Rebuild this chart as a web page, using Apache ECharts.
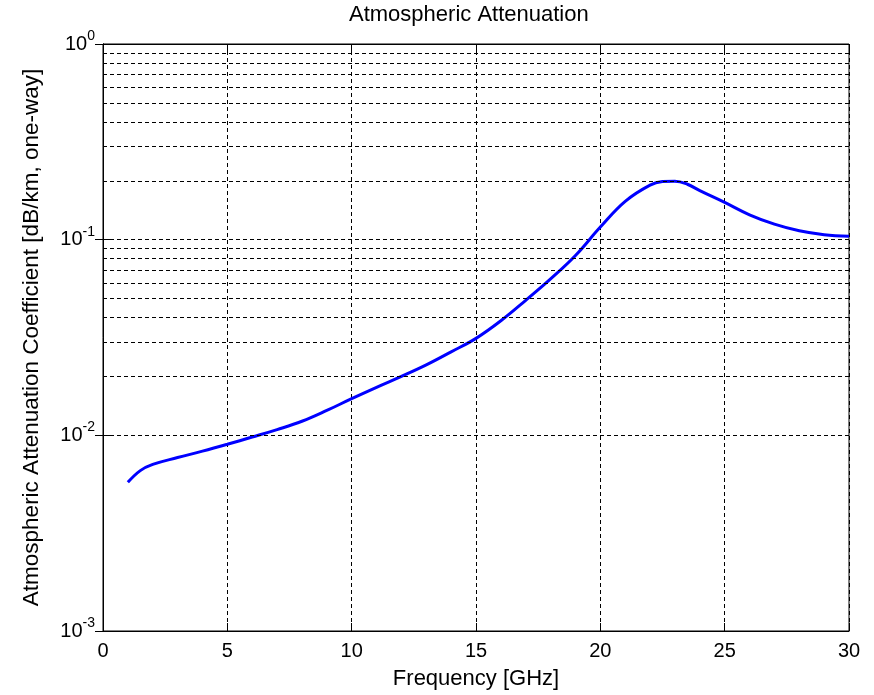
<!DOCTYPE html>
<html>
<head>
<meta charset="UTF-8">
<title>Atmospheric Attenuation</title>
<script src="https://cdn.jsdelivr.net/npm/echarts@6/dist/echarts.min.js"></script>
<style>
  html, body {margin:0; padding:0; background:#fff;}
  #chart {width:874px; height:695px;}
</style>
</head>
<body>
<div id="chart"></div>
<script>
// frequency [GHz] and attenuation [dB/km]
var freq = [1, 1.5, 2, 3, 4, 5, 6, 7, 8, 9, 10, 11, 12, 13, 14, 15, 16, 17, 18, 19, 20,
            21, 22, 22.5, 23, 23.5, 24, 25, 26, 27, 28, 29, 30];
var atten = [0.00575, 0.0066, 0.0071, 0.0077, 0.0083, 0.0090, 0.0098, 0.0107, 0.0118, 0.0134, 0.0154,
             0.0176, 0.0200, 0.0229, 0.0267, 0.0313, 0.0385, 0.049, 0.063, 0.083, 0.116,
             0.157, 0.190, 0.198, 0.199, 0.192, 0.178, 0.155, 0.134, 0.120, 0.111, 0.106, 0.104];
var xTicks = [0, 5, 10, 15, 20, 25, 30];
var minorGrid = [0.002, 0.003, 0.004, 0.005, 0.006, 0.007, 0.008, 0.009,
                 0.02, 0.03, 0.04, 0.05, 0.06, 0.07, 0.08, 0.09,
                 0.2, 0.3, 0.4, 0.5, 0.6, 0.7, 0.8, 0.9];

var pts = freq.map(function (f, i) { return [f, atten[i]]; });
var dash = {color: '#000', width: 1, type: [4, 3]};
var font = 'Arial, "Liberation Sans", sans-serif';

var chart = echarts.init(document.getElementById('chart'), null, {renderer: 'canvas'});
chart.setOption({
  animation: false,
  backgroundColor: '#fff',
  textStyle: {fontFamily: font, color: '#000'},
  title: {
    text: 'Atmospheric Attenuation',
    left: 349, top: 4, padding: 0,
    textStyle: {fontSize: 22, fontWeight: 'normal', color: '#000', fontFamily: font}
  },
  grid: {left: 103, right: 25, top: 44, bottom: 63, show: true, borderColor: '#000', borderWidth: 1},
  xAxis: [{
    type: 'value', min: 0, max: 30, interval: 5,
    name: 'Frequency [GHz]', nameLocation: 'middle', nameGap: 37,
    nameTextStyle: {fontSize: 22, color: '#000'},
    axisLine: {lineStyle: {color: '#000'}},
    axisTick: {inside: true, length: 8, lineStyle: {color: '#000'}},
    axisLabel: {fontSize: 20, color: '#000', margin: 10,
      formatter: function (v) { return xTicks.indexOf(v) >= 0 ? String(v) : ''; }},
    splitLine: {show: true, lineStyle: dash}
  }, {
    type: 'value', min: 0, max: 30, interval: 5, position: 'top',
    axisLine: {lineStyle: {color: '#000'}},
    axisTick: {inside: true, length: 8, lineStyle: {color: '#000'}},
    axisLabel: {show: false}, splitLine: {show: false}
  }],
  yAxis: [{
    type: 'log', logBase: 10, min: 0.001, max: 1,
    name: 'Atmospheric Attenuation Coefficient [dB/km, one-way]',
    nameLocation: 'middle', nameGap: 60,
    nameTextStyle: {fontSize: 22.5, color: '#000'},
    axisLine: {lineStyle: {color: '#000'}},
    axisTick: {inside: true, length: 8, lineStyle: {color: '#000'}},
    axisLabel: {
      margin: 8, color: '#000',
      formatter: function (v) {
        var e = Math.round(Math.log10(v));
        return '{b|10}{s|' + e + '}';
      },
      rich: {
        b: {fontSize: 20, fontFamily: font, color: '#000'},
        s: {fontSize: 14, fontFamily: font, color: '#000', padding: [0, 0, 16, 0]}
      }
    },
    splitLine: {show: true, lineStyle: dash}
  }, {
    type: 'log', logBase: 10, min: 0.001, max: 1, position: 'right',
    axisLine: {show: true, lineStyle: {color: '#000'}},
    axisTick: {show: true, inside: true, length: 8, lineStyle: {color: '#000'}},
    axisLabel: {show: false}, splitLine: {show: false}
  }],
  series: [{
    type: 'line',
    data: pts,
    smooth: 0.4,
    showSymbol: false,
    lineStyle: {color: '#0000ff', width: 3},
    markLine: {
      silent: true,
      symbol: 'none',
      label: {show: false},
      lineStyle: dash,
      emphasis: {disabled: true},
      data: minorGrid.map(function (v) { return {yAxis: v}; })
    }
  }]
});
</script>
</body>
</html>
